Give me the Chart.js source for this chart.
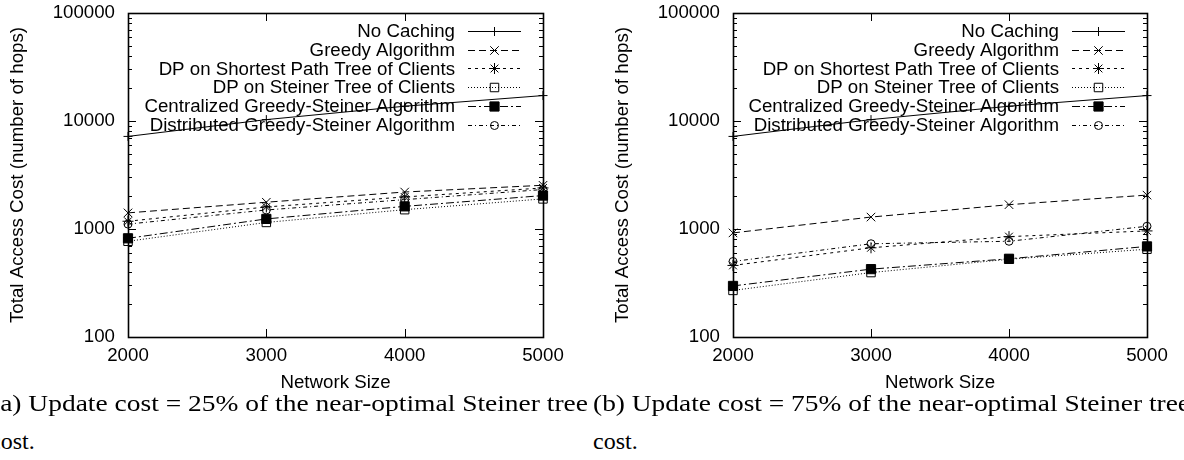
<!DOCTYPE html>
<html><head><meta charset="utf-8">
<script src="https://cdn.jsdelivr.net/npm/chart.js@4.4.0/dist/chart.umd.min.js"></script>
<style>
html,body{margin:0;padding:0;background:#fff;width:1184px;height:460px;overflow:hidden;position:relative}
.panel{position:absolute;top:0;width:592px;height:400px}
.cap{position:absolute;font-family:"Liberation Serif","DejaVu Serif",serif;font-size:24px;color:#000;white-space:nowrap;transform-origin:0 50%;line-height:1}
</style></head><body>
<div class="panel" style="left:0"><canvas id="cA" width="592" height="400"></canvas></div>
<div class="panel" style="left:592px"><canvas id="cB" width="592" height="400"></canvas></div>
<div class="cap fit" id="a1" style="left:-9px;top:391px">(a) Update cost = 25% of the near-optimal Steiner tree</div>
<div class="cap" id="a2" style="left:-10px;top:429px">cost.</div>
<div class="cap fit" id="b1" style="left:593px;top:391px">(b) Update cost = 75% of the near-optimal Steiner tree</div>
<div class="cap" id="b2" style="left:593px;top:429px">cost.</div>
<script>
// ---- data ----
const networkSizes = [2000, 3000, 4000, 5000];
const yTickValues = [100, 1000, 10000, 100000];
const seriesNames = [
  'No Caching',
  'Greedy Algorithm',
  'DP on Shortest Path Tree of Clients',
  'DP on Steiner Tree of Clients',
  'Centralized Greedy-Steiner Algorithm',
  'Distributed Greedy-Steiner Algorithm'
];
// (a) update cost = 25%
const noCachingA = [7200, 10300, 13700, 17200];
const greedyA    = [1410, 1770, 2200, 2540];
const dpSptA     = [1180, 1600, 1980, 2400];
const dpSteinerA = [770, 1150, 1510, 1900];
const centralA   = [820, 1240, 1620, 2040];
const distribA   = [1110, 1500, 1870, 2320];
// (b) update cost = 75%
const noCachingB = [7200, 10300, 13700, 17200];
const greedyB    = [920, 1290, 1680, 2060];
const dpSptB     = [460, 670, 850, 960];
const dpSteinerB = [270, 395, 525, 650];
const centralB   = [297, 425, 530, 690];
const distribB   = [500, 730, 770, 1060];

// ---- styles ----
const styles = [
  {pointStyle:'cross',    radius:4.5, fill:'rgba(0,0,0,0)', dash:[]},
  {pointStyle:'crossRot', radius:6,   fill:'rgba(0,0,0,0)', dash:[7,4]},
  {pointStyle:'star',     radius:5.5, fill:'rgba(0,0,0,0)', dash:[3,4]},
  {pointStyle:'rect',     radius:6,   fill:'rgba(0,0,0,0)', dash:[1,2]},
  {pointStyle:'rect',     radius:6.5, fill:'#000',          dash:[8,3,2,3]},
  {pointStyle:'circle',   radius:4,   fill:'rgba(0,0,0,0)', dash:[4,3,1,3]}
];
const FONT = {family:'"Liberation Sans", Arial, Helvetica, sans-serif', size:18.7};
const FONTSTR = '18.7px "Liberation Sans", Arial, Helvetica, sans-serif';

function marker(ctx, st, x, y){
  const r = st.radius;
  ctx.save();
  ctx.setLineDash([]);
  ctx.lineWidth = 1;
  ctx.strokeStyle = '#000';
  ctx.fillStyle = st.fill;
  ctx.beginPath();
  const d = r * Math.SQRT1_2;
  if (st.pointStyle === 'cross' || st.pointStyle === 'star') {
    ctx.moveTo(x - r, y); ctx.lineTo(x + r, y);
    ctx.moveTo(x, y - r); ctx.lineTo(x, y + r);
  }
  if (st.pointStyle === 'crossRot' || st.pointStyle === 'star') {
    ctx.moveTo(x - d, y - d); ctx.lineTo(x + d, y + d);
    ctx.moveTo(x - d, y + d); ctx.lineTo(x + d, y - d);
  }
  if (st.pointStyle === 'rect') { ctx.rect(x - d, y - d, 2*d, 2*d); ctx.fill(); }
  if (st.pointStyle === 'circle') { ctx.arc(x, y, r, 0, Math.PI*2); }
  ctx.stroke();
  ctx.restore();
}

const framePlugin = {
  id: 'frame',
  afterDraw(chart){
    const ctx = chart.ctx, a = chart.chartArea;
    const xs = chart.scales.x, ys = chart.scales.y;
    ctx.save();
    ctx.setLineDash([]);
    ctx.strokeStyle = '#000';
    ctx.lineWidth = 1;
    ctx.beginPath();
    networkSizes.forEach(v => {
      const px = Math.round(xs.getPixelForValue(v)) + 0.5;
      ctx.moveTo(px, a.bottom); ctx.lineTo(px, a.bottom - 8);
      ctx.moveTo(px, a.top); ctx.lineTo(px, a.top + 8);
    });
    for (let d = 100; d <= 100000; d *= 10) {
      for (let m = 1; m <= 9; m++) {
        const v = d * m;
        if (v > 100000) break;
        const len = m === 1 ? 8 : 4;
        const py = Math.round(ys.getPixelForValue(v)) + 0.5;
        ctx.moveTo(a.left, py); ctx.lineTo(a.left + len, py);
        ctx.moveTo(a.right, py); ctx.lineTo(a.right - len, py);
      }
    }
    ctx.stroke();
    ctx.lineWidth = 1.6;
    ctx.strokeRect(Math.round(a.left)+0.5, Math.round(a.top)+0.5, Math.round(a.right - a.left), Math.round(a.bottom - a.top));
    ctx.font = FONTSTR;
    ctx.fillStyle = '#000';
    ctx.textAlign = 'right';
    ctx.textBaseline = 'middle';
    seriesNames.forEach((name, i) => {
      const y = a.top + 18 + i * 18.7;
      ctx.fillText(name, a.right - 88, y + 1);
      const st = styles[i];
      ctx.save();
      ctx.lineWidth = 1;
      ctx.setLineDash(st.dash);
      ctx.beginPath();
      ctx.moveTo(a.right - 75, Math.round(y) + 0.5);
      ctx.lineTo(a.right - 22, Math.round(y) + 0.5);
      ctx.stroke();
      ctx.restore();
      marker(ctx, st, a.right - 48.5, Math.round(y) + 0.5);
    });
    ctx.restore();
  }
};

function makeDatasets(arrs){
  return arrs.map((arr, i) => ({
    label: seriesNames[i],
    data: networkSizes.map((x, j) => ({x: x, y: arr[j]})),
    borderColor: '#000',
    borderWidth: 1,
    borderDash: styles[i].dash,
    pointStyle: styles[i].pointStyle,
    pointRadius: styles[i].radius,
    pointHoverRadius: styles[i].radius,
    pointBorderColor: '#000',
    pointBackgroundColor: styles[i].fill,
    pointBorderWidth: 1,
    tension: 0,
    fill: false,
    clip: false
  }));
}

function makeChart(id, arrs, yWidth, padRight, yTitlePad){
  return new Chart(document.getElementById(id), {
    type: 'line',
    data: { datasets: makeDatasets(arrs) },
    options: {
      responsive: false,
      animation: false,
      devicePixelRatio: 1,
      layout: { padding: {left: 0, right: padRight, top: 13, bottom: 0} },
      plugins: { legend: {display: false}, tooltip: {enabled: false} },
      scales: {
        x: {
          type: 'linear', min: 2000, max: 5000,
          grid: {display: false, drawTicks: false},
          border: {display: false},
          ticks: {stepSize: 1000, font: FONT, color: '#000', padding: 8, callback: v => String(v)},
          afterFit: s => { s.height = 63; s.paddingLeft = 0; s.paddingRight = 0; },
          title: {display: true, text: 'Network Size', font: FONT, color: '#000', padding: {top: 0, bottom: 6}}
        },
        y: {
          type: 'logarithmic', min: 100, max: 100000,
          grid: {display: false, drawTicks: false},
          border: {display: false},
          ticks: {font: FONT, color: '#000', padding: 13, autoSkip: false, callback: v => String(v)},
          afterBuildTicks: s => { s.ticks = yTickValues.map(v => ({value: v})); },
          afterFit: s => { s.width = yWidth; s.paddingTop = 0; s.paddingBottom = 0; },
          title: {display: true, text: 'Total Access Cost (number of hops)', font: FONT, color: '#000', padding: {top: yTitlePad, bottom: 0}}
        }
      }
    },
    plugins: [framePlugin]
  });
}

makeChart('cA', [noCachingA, greedyA, dpSptA, dpSteinerA, centralA, distribA], 128, 49, 7);
makeChart('cB', [noCachingB, greedyB, dpSptB, dpSteinerB, centralB, distribB], 141, 37, 20);

document.querySelectorAll('.fit').forEach(el => {
  const w = el.getBoundingClientRect().width;
  el.style.transform = 'scaleX(' + (597 / w) + ')';
});
</script>
</body></html>
